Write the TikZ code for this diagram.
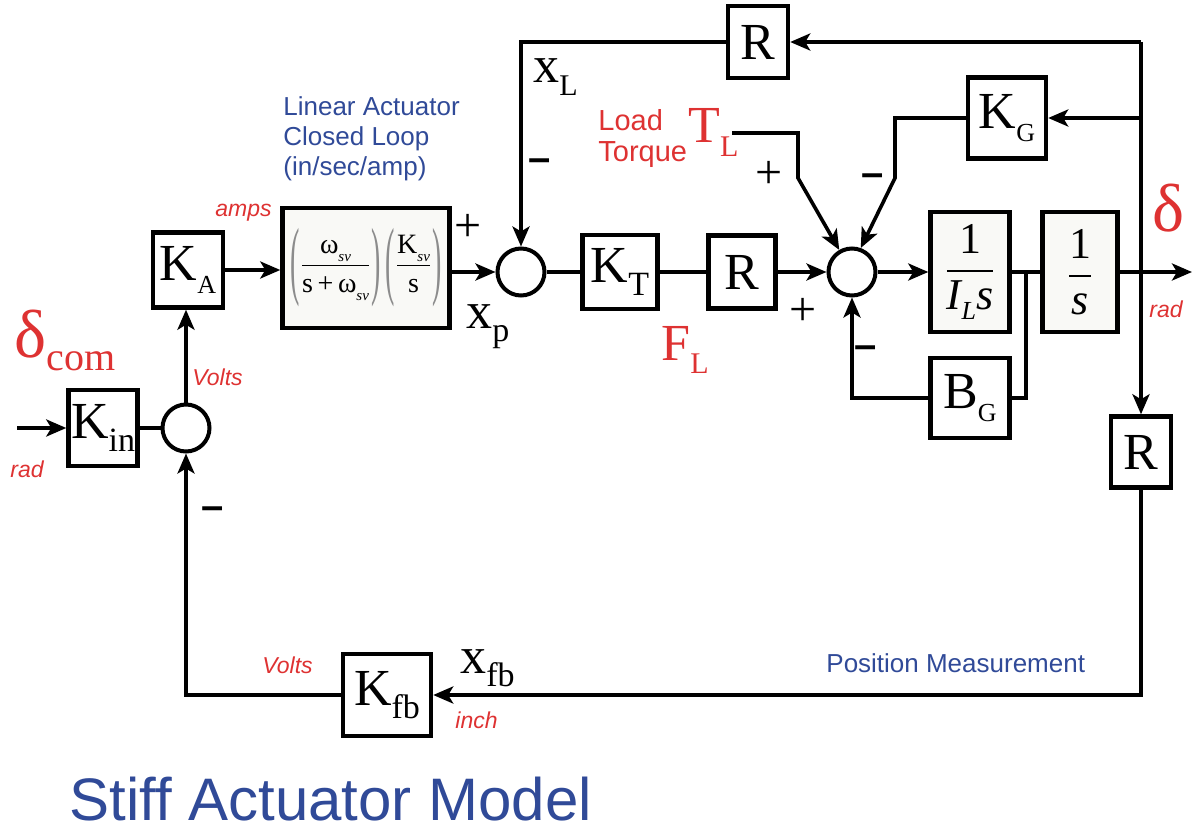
\documentclass[tikz,border=0pt]{standalone}
\usepackage{amsmath}
\usepackage{graphicx}
\usepackage{fontspec}
\setmainfont{Liberation Serif}
\newfontfamily\arial{Liberation Sans}
\usetikzlibrary{arrows.meta}
\definecolor{myred}{RGB}{222,50,50}
\definecolor{myblue}{RGB}{48,74,152}
\definecolor{boxfill}{RGB}{249,249,246}
\definecolor{parcol}{RGB}{140,140,140}
\newcommand\fs[1]{\fontsize{#1}{#1}\selectfont}
\newcommand\sbs[2][15]{\raisebox{-6.5pt}{\fs{#1}#2}}
\newcommand\svsub{\raisebox{-4pt}{\fs{7.5}\itshape sv}}
\newcommand\tpL{\textcolor{parcol}{\raisebox{-8pt}{\scalebox{1}[3.1]{(}}}}
\newcommand\tpR{\textcolor{parcol}{\raisebox{-8pt}{\scalebox{1}[3.1]{)}}}}
\begin{document}
\begin{tikzpicture}[x=0.5pt,y=-0.5pt,
  blk/.style={draw, line width=2.2pt, inner sep=0pt, font=\fs{26}},
  tfblk/.style={blk, fill=boxfill},
  sumc/.style={draw, circle, line width=2pt, minimum size=23.5pt, inner sep=0pt},
  wire/.style={line width=1.8pt},
  arr/.style={wire, -{Stealth[length=10pt,width=8.5pt,inset=2.5pt]}},
  unitlbl/.style={font=\arial\itshape\fs{11.5}, text=myred, inner sep=0pt, anchor=base west},
  bluelbl/.style={font=\arial\fs{13}, text=myblue, inner sep=0pt, anchor=base west},
  varlbl/.style={font=\fs{26}, inner sep=0pt, anchor=base west},
  redvar/.style={varlbl, text=myred},
  plussign/.style={font=\fs{24}, inner sep=0pt},
  minussign/.style={font=\arial\bfseries\fs{20}, inner sep=0pt, anchor=base},
]
\useasboundingbox (0,0) rectangle (1195,829);

% blocks
\node[blk, minimum width=34.5pt, minimum height=38pt] (Kin) at (103,428) {K\sbs[17]{in}};
\node[blk, minimum width=35pt, minimum height=37.5pt] (KA) at (188,270) {K\sbs[13]{A}};
\node[tfblk, minimum width=83.5pt, minimum height=60pt, font=\fs{14}] (TF) at (366,268)
  {$\tpL\dfrac{\textrm{ω}\svsub}{\textrm{s\,+\,ω}\svsub}\tpR\,\tpL\dfrac{\textrm{K}\svsub}{\textrm{s}}\tpR$};
\node[sumc] (s1) at (186,428) {};
\node[sumc] (s2) at (521,272) {};
\node[blk, minimum width=37.5pt, minimum height=37pt] (KT) at (620,272) {K\sbs[17]{T}};
\node[blk, minimum width=33.5pt, minimum height=36.5pt] (Rm) at (742,272) {R};
\node[sumc] (s3) at (852,272) {};
\node[tfblk, minimum width=39.5pt, minimum height=60pt, font=\fs{22}] (IL) at (970,272)
  {$\dfrac{\textrm{1}}{\textit{I}\raisebox{-5pt}{\fs{13}\itshape L}\textit{s}}$};
\node[tfblk, minimum width=37.5pt, minimum height=60pt, font=\fs{22}] (Is) at (1080,272)
  {$\dfrac{\textrm{1}}{\textit{s}}$};
\node[blk, minimum width=39.5pt, minimum height=40pt] (BG) at (970,398) {B\sbs[13]{G}};
\node[blk, minimum width=30pt, minimum height=36pt] (Rt) at (758,42) {R};
\node[blk, minimum width=39pt, minimum height=40.5pt] (KG) at (1007,118) {K\sbs[13]{G}};
\node[blk, minimum width=30pt, minimum height=35.5pt] (Rr) at (1141,452) {R};
\node[blk, minimum width=44pt, minimum height=41pt] (Kfb) at (387,695) {K\sbs[17]{fb}};

% coordinates
\coordinate (in) at (17,428);
\coordinate (j1) at (1026,272);
\coordinate (out) at (1192,272);
\coordinate (c1) at (1141,42);
\coordinate (j3) at (1141,118);
\coordinate (kg1) at (895,118);
\coordinate (kg2) at (895,178);
\coordinate (TLs) at (732,133);
\coordinate (tl1) at (798,133);
\coordinate (tl2) at (798,178);

% connectors
\draw[arr] (in) -- (Kin.west);
\draw[wire] (Kin.east) -- (s1.west);
\draw[arr] (s1.north) -- (s1.north |- KA.south);
\draw[arr] (KA.east) -- (TF.west |- KA.east);
\draw[arr] (TF.east |- s2.west) -- (s2.west);
\draw[wire] (s2.east) -- (KT.west);
\draw[wire] (KT.east) -- (Rm.west);
\draw[arr] (Rm.east) -- (s3.west);
\draw[arr] (s3.east) -- (IL.west);
\draw[wire] (IL.east) -- (Is.west);
\draw[wire] (j1) |- (BG.east);
\draw[arr] (BG.west) -| (s3.south);
\draw[arr] (Is.east) -- (out);
\draw[arr] (c1) -- (Rr.north);
\draw[arr] (c1) -- (Rt.east);
\draw[arr] (j3) -- (KG.east);
\draw[arr] (Rt.west) -| (s2.north);
\draw[arr] (KG.west) -- (kg1) -- (kg2) -- (s3.70);
\draw[arr] (TLs) -- (tl1) -- (tl2) -- (s3.120);
\draw[arr] (Rr.south) |- (Kfb.east);
\draw[arr] (Kfb.west) -| (s1.south);

% labels
\node[anchor=base west, text=myred, inner sep=0pt, font=\fs{34}] (dcom) at (14,357) {δ\raisebox{-6.5pt}{\fs{20}com}};
\node[unitlbl] (rad1) at (10,477) {rad};
\node[unitlbl] (volts1) at (192,385) {Volts};
\node[unitlbl] (amps) at (215,217) {amps};
\node[bluelbl] (la1) at (283,116) {Linear Actuator};
\node[bluelbl] (la2) at (283,146) {Closed Loop};
\node[bluelbl] (la3) at (283,176) {(in/sec/amp)};
\node[plussign] (p1) at (468,228) {+};
\node[varlbl] (xp) at (466,328) {x\sbs[17]{p}};
\node[varlbl] (xL) at (533,83) {x\sbs{L}};
\node[minussign] (m1) at (540,172) {–};
\node[anchor=base west, font=\arial\fs{14.5}, text=myred, inner sep=0pt] (load) at (598,131) {Load};
\node[anchor=base west, font=\arial\fs{14.5}, text=myred, inner sep=0pt] (torque) at (598,162) {Torque};
\node[redvar] (TL) at (688,143) {T\sbs{L}};
\node[plussign] (p2) at (769,175) {+};
\node[minussign] (m2) at (873,186) {–};
\node[plussign] (p3) at (803,312) {+};
\node[redvar] (FL) at (661,360) {F\sbs{L}};
\node[minussign] (m3) at (866,358) {–};
\node[anchor=base, font=\fs{34}, text=myred, inner sep=0pt] (delta) at (1169,232) {δ};
\node[unitlbl] (rad2) at (1149,317) {rad};
\node[minussign] (m4) at (213,519) {–};
\node[unitlbl] (volts2) at (262,673) {Volts};
\node[varlbl] (xfb) at (460,673) {x\sbs[17]{fb}};
\node[unitlbl] (inch) at (455,728) {inch};
\node[bluelbl] (pm) at (826,672) {Position Measurement};
\node[anchor=base west, font=\arial\fs{30}, text=myblue, inner sep=0pt] (title) at (69,820) {Stiff Actuator Model};
\end{tikzpicture}
\end{document}
